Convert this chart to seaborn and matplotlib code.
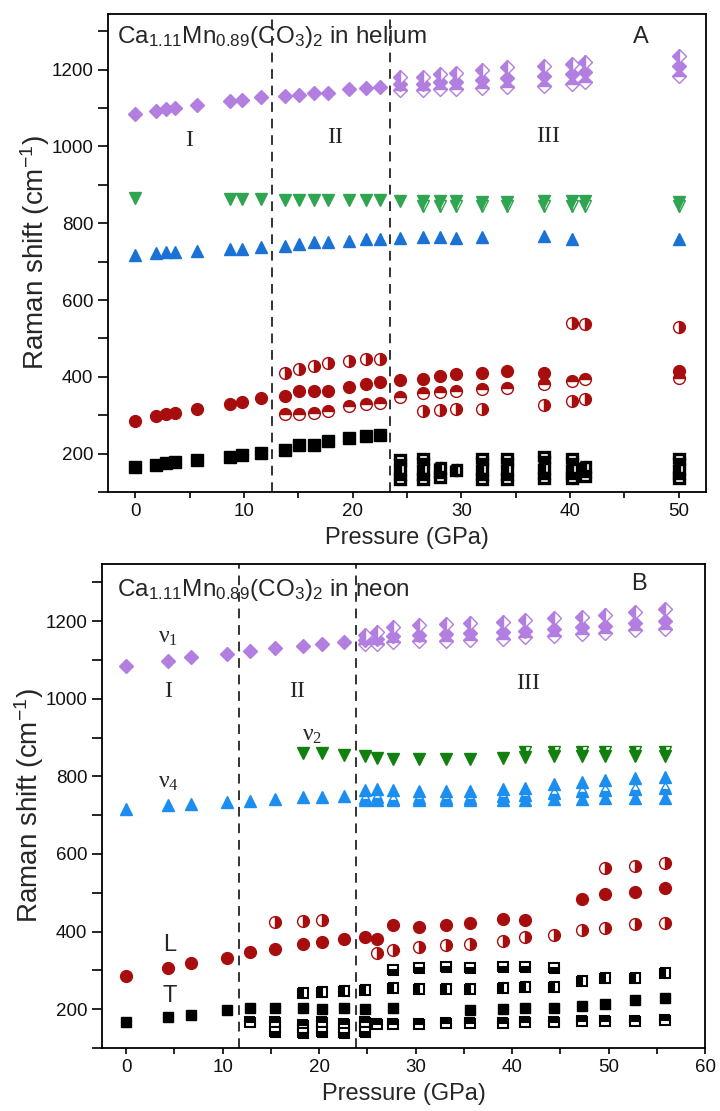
import matplotlib
matplotlib.use("Agg")
import matplotlib.pyplot as plt
import seaborn as sns

sns.set_theme(style="ticks")
plt.rcParams["font.family"] = ["Liberation Sans", "DejaVu Sans"]
plt.rcParams["mathtext.fontset"] = "custom"
plt.rcParams["mathtext.rm"] = "Liberation Sans"
plt.rcParams["mathtext.it"] = "Liberation Sans:italic"
plt.rcParams["mathtext.default"] = "regular"

# ---------------- helium run (panel A) ----------------
he_p_low = [0.0, 1.9, 2.8, 3.7, 5.7, 8.7, 9.8, 11.6, 13.75, 15.1, 16.4, 17.7, 19.7, 21.2, 22.5]
he_p_high = [24.35, 26.5, 28.0, 29.5, 31.9, 34.2, 37.6, 40.2, 41.4, 50.0]

he_v1_low = [1085, 1093, 1097, 1100, 1108, 1119, 1121, 1128, 1132, 1134, 1138, 1140, 1149, 1153, 1156]
he_v1_hi_a = [1180, 1182, 1189, 1191, 1199, 1206, 1210, 1216, 1219, 1236]
he_v1_hi_b = [1163, 1163, 1168, 1168, 1173, 1178, 1184, 1189, 1193, 1210]
he_v1_hi_c = [1146, 1146, 1150, 1150, 1152, 1156, 1158, 1163, 1168, 1184]

he_v2_p = [0.0, 8.7, 9.8, 11.6, 13.75, 15.1, 16.4, 17.7, 19.7, 21.2, 22.5]
he_v2 = [867, 863, 863, 863, 861, 861, 861, 861, 860, 860, 860]
he_v2_hi = [858, 857, 857, 857, 856, 856, 857, 858, 857, 856]
he_v2_hi_b_p = [26.5, 28.0, 29.5, 31.9, 34.2, 37.6, 40.2, 41.4, 50.0]
he_v2_hi_b = [846, 846, 846, 846, 846, 846, 846, 846, 846]

he_v4_low = [718, 722, 724, 726, 728, 732, 734, 738, 741, 745, 750, 752, 754, 758, 759]
he_v4_hi_p = [24.35, 26.5, 28.0, 29.5, 31.9, 37.6, 40.2, 50.0]
he_v4_hi = [762, 763, 765, 762, 765, 768, 758, 760]

he_l_low = [286, 297, 303, 306, 315, 329, 334, 344, 351, 362, 362, 362, 374, 380, 386]
he_l2_p = [13.75, 15.1, 16.4, 17.7, 19.7, 21.2, 22.5]
he_l2_up = [410, 421, 427, 437, 440, 447, 447]
he_l2_dn = [303, 303, 306, 310, 325, 329, 331]
he_l3_p = [24.35, 26.5, 28.0, 29.5, 31.9, 34.2, 37.6, 50.0]
he_l3 = [392, 395, 403, 407, 410, 416, 409, 416]
he_l3_mid = [347, 357, 360, 364, 368, 371, 380, 390, 395, 396]
he_l3_dn_p = [26.5, 28.0, 29.5, 31.9, 37.6, 40.2, 41.4]
he_l3_dn = [312, 314, 316, 316, 327, 338, 341]
he_l3_up_p = [40.2, 41.4, 50.0]
he_l3_up = [539, 538, 529]

he_t_low = [164, 171, 175, 177, 182, 190, 196, 201, 208, 223, 223, 232, 241, 247, 249]
he_t3_a_p = [24.35, 26.5, 31.9, 34.2, 37.6, 40.2, 50.0]
he_t3_a = [184, 186, 187, 187, 190, 186, 186]
he_t3_b_p = [24.35, 26.5, 28.0, 29.5, 31.9, 34.2, 37.6, 40.2, 41.4, 50.0]
he_t3_b = [159, 160, 162, 156, 161, 161, 163, 160, 165, 160]
he_t3_c_p = [24.35, 26.5, 28.0, 31.9, 34.2, 37.6, 40.2, 41.4, 50.0]
he_t3_c = [135, 133, 140, 135, 135, 136, 136, 141, 136]

# ---------------- neon run (panel B) ----------------
ne_p_low = [0.0, 4.3, 6.7, 10.5, 12.85, 15.4, 18.35, 20.3, 22.6]
ne_p_high = [24.8, 25.95, 27.7, 30.4, 33.2, 35.6, 39.1, 41.3, 44.3, 47.2, 49.6, 52.7, 55.8]

ne_v1_low = [1085, 1098, 1107, 1115, 1123, 1130, 1136, 1141, 1147]
ne_v1_hi_a = [1165, 1172, 1184, 1190, 1192, 1196, 1198, 1203, 1207, 1211, 1215, 1224, 1232]
ne_v1_hi_b = [1152, 1155, 1162, 1165, 1168, 1170, 1172, 1175, 1180, 1184, 1187, 1195, 1200]
ne_v1_hi_c = [1140, 1142, 1146, 1148, 1150, 1152, 1155, 1160, 1162, 1168, 1170, 1178, 1180]

ne_v2_p = [18.35, 20.3, 22.6, 24.8, 25.95, 27.7, 30.4, 33.2, 35.6, 39.1, 41.3, 44.3, 47.2, 49.6, 52.7, 55.8]
ne_v2 = [861, 861, 856, 852, 848, 845, 844, 844, 844, 848, 850, 852, 852, 852, 852, 852]
ne_v2_b_p = [41.3, 44.3, 47.2, 49.6, 52.7, 55.8]
ne_v2_b = [862, 862, 862, 862, 862, 862]

ne_v4_low = [715, 726, 728, 733, 737, 741, 746, 748, 750]
ne_v4_hi_a = [765, 768, 766, 762, 762, 762, 767, 771, 779, 786, 790, 795, 798]
ne_v4_hi_b = [745, 748, 742, 745, 745, 745, 750, 752, 757, 762, 765, 768, 770]
ne_v4_hi_c = [738, 738, 738, 738, 738, 738, 740, 740, 742, 742, 743, 745, 745]

ne_l_p = [0.0, 4.3, 6.7, 10.5, 12.85, 15.4, 18.35, 20.3, 22.6, 24.8, 25.95, 27.7,
          30.4, 33.2, 35.6, 39.1, 41.3, 47.2, 49.6, 52.7, 55.8]
ne_l = [286, 307, 318, 333, 348, 356, 369, 374, 382, 385, 380, 416,
        412, 416, 423, 432, 429, 485, 496, 503, 512]
ne_l_up_p = [15.4, 18.35, 20.3, 49.6, 52.7, 55.8]
ne_l_up = [425, 426, 429, 563, 570, 577]
ne_l_dn_p = [25.95, 27.7, 30.4, 33.2, 35.6, 39.1, 41.3, 44.3, 47.2, 49.6, 52.7, 55.8]
ne_l_dn = [345, 352, 359, 365, 369, 376, 386, 392, 405, 409, 420, 422]

ne_t_p = [0.0, 4.3, 6.7, 10.5, 12.85, 15.4, 18.35, 20.3, 22.6, 24.8, 27.7,
          35.6, 39.1, 41.3, 44.3, 47.2, 49.6, 52.7, 55.8]
ne_t = [167, 181, 185, 198, 204, 204, 204, 201, 202, 200, 204,
        198, 201, 204, 204, 209, 213, 224, 228]
ne_t_dn_p = [12.85, 15.4, 18.35, 20.3, 22.6, 24.8, 25.95, 27.7, 30.4, 33.2, 35.6,
             39.1, 41.3, 44.3, 47.2, 49.6, 52.7, 55.8]
ne_t_dn = [167, 167, 160, 167, 162, 167, 162, 162, 162, 164, 164,
           164, 168, 168, 170, 170, 170, 172]
ne_t_low_p = [15.4, 18.35, 20.3, 22.6, 24.8]
ne_t_low = [141, 138, 141, 138, 141]
ne_t_mid_p = [18.35, 20.3, 22.6, 24.8, 27.7, 30.4, 33.2, 35.6, 39.1, 41.3, 44.3,
              47.2, 49.6, 52.7, 55.8]
ne_t_mid = [241, 245, 247, 249, 254, 252, 252, 252, 254, 258, 258, 273, 280, 280, 292]
ne_t_top_p = [27.7, 30.4, 33.2, 35.6, 39.1, 41.3, 44.3]
ne_t_top = [301, 307, 309, 307, 309, 309, 307]

PURPLE = "#b27ee0"
RED = "#a80d0d"
BLACK = "#000000"
GREEN_A = "#2fa552"
BLUE_A = "#1a72d4"
GREEN_B = "#12800f"
BLUE_B = "#1b8ef0"


def marks(ax, p, v, marker, color, ms, fill="full", mew=1.0):
    sns.lineplot(x=p, y=v, ax=ax, estimator=None, sort=False, errorbar=None,
                 linestyle="none", marker=marker, markersize=ms, color=color,
                 markeredgecolor=color, markerfacecolor=color, fillstyle=fill,
                 markerfacecoloralt="white", markeredgewidth=mew, legend=False)


def style_axes(ax, xlim, ylim, xticks):
    ax.set_xlim(*xlim)
    ax.set_ylim(*ylim)
    ax.set_xticks(xticks)
    minor = [t + 5 for t in xticks if t + 5 < xlim[1]]
    ax.set_xticks(minor, minor=True)
    ax.set_yticks([200, 400, 600, 800, 1000, 1200])
    ax.set_yticks([100, 300, 500, 700, 900, 1100, 1300], minor=True)
    ax.tick_params(axis="both", which="both", direction="out", color="black",
                   width=1.2, labelsize=13.5, labelcolor="#111111")
    ax.tick_params(axis="y", which="both", length=7)
    ax.tick_params(axis="x", which="both", length=4.5)
    for s in ax.spines.values():
        s.set_linewidth(1.3)
        s.set_color("black")
    ax.set_xlabel("Pressure (GPa)", fontsize=17, labelpad=5)
    ax.set_ylabel("Raman shift (cm$^{-1}$)", fontsize=20, labelpad=0)
    ax.grid(False)


fig = plt.figure(figsize=(7.2, 11.11), dpi=100)
axA = fig.add_axes([0.150, 0.5572, 0.8306, 0.4302])
axB = fig.add_axes([0.1417, 0.0567, 0.8375, 0.4356])

# ---- panel A ----
for xv in (12.6, 23.4):
    axA.axvline(xv, color="#333333", lw=1.4, dashes=(5, 3.5), zorder=1)

marks(axA, he_p_low, he_v1_low, "D", PURPLE, 7.5)
marks(axA, he_p_high, he_v1_hi_c, "D", PURPLE, 7.5, "top")
marks(axA, he_p_high, he_v1_hi_b, "D", PURPLE, 7.5)
marks(axA, he_p_high, he_v1_hi_a, "D", PURPLE, 7.5, "left")

marks(axA, he_v2_p, he_v2, "v", GREEN_A, 9)
marks(axA, he_v2_hi_b_p, he_v2_hi_b, "v", GREEN_A, 9, "left")
marks(axA, he_p_high, he_v2_hi, "v", GREEN_A, 9)

marks(axA, he_p_low, he_v4_low, "^", BLUE_A, 9)
marks(axA, he_v4_hi_p, he_v4_hi, "^", BLUE_A, 9)

marks(axA, he_p_low, he_l_low, "o", RED, 8.5)
marks(axA, he_l2_p, he_l2_up, "o", RED, 8.5, "right")
marks(axA, he_l2_p, he_l2_dn, "o", RED, 8.5, "top")
marks(axA, he_l3_p, he_l3, "o", RED, 8.5)
marks(axA, he_p_high, he_l3_mid, "o", RED, 8.5, "top")
marks(axA, he_l3_dn_p, he_l3_dn, "o", RED, 8.5, "right")
marks(axA, he_l3_up_p, he_l3_up, "o", RED, 8.5, "right")

marks(axA, he_p_low, he_t_low, "s", BLACK, 8)
marks(axA, he_t3_a_p, he_t3_a, "s", BLACK, 7.5, "bottom", 2.4)
marks(axA, he_t3_b_p, he_t3_b, "s", BLACK, 7.5, "left", 2.4)
marks(axA, he_t3_c_p, he_t3_c, "s", BLACK, 7.5, "top", 2.4)

style_axes(axA, (-2.5, 52.5), (100, 1345), [0, 10, 20, 30, 40, 50])

axA.text(0.015, 0.952, r"Ca$_{1.11}$Mn$_{0.89}$(CO$_3$)$_2$ in helium", transform=axA.transAxes,
         fontsize=17.5, va="center", ha="left")
axA.text(0.878, 0.952, "A", transform=axA.transAxes, fontsize=17, va="center", ha="left")
for lab, xp, yp in (("I", 5.0, 1015), ("II", 18.35, 1022), ("III", 38.0, 1027)):
    axA.text(xp, yp, lab, fontsize=17, family="Liberation Serif", ha="center", va="center")

# ---- panel B ----
for xv in (11.7, 23.8):
    axB.axvline(xv, color="#333333", lw=1.4, dashes=(5, 3.5), zorder=1)

marks(axB, ne_p_low, ne_v1_low, "D", PURPLE, 7.5)
marks(axB, ne_p_high, ne_v1_hi_c, "D", PURPLE, 7.5, "top")
marks(axB, ne_p_high, ne_v1_hi_b, "D", PURPLE, 7.5)
marks(axB, ne_p_high, ne_v1_hi_a, "D", PURPLE, 7.5, "left")

marks(axB, ne_v2_b_p, ne_v2_b, "v", GREEN_B, 8.5, "left")
marks(axB, ne_v2_p, ne_v2, "v", GREEN_B, 8.5)

marks(axB, ne_p_low, ne_v4_low, "^", BLUE_B, 9)
marks(axB, ne_p_high, ne_v4_hi_c, "^", BLUE_B, 9)
marks(axB, ne_p_high, ne_v4_hi_b, "^", BLUE_B, 9, "bottom")
marks(axB, ne_p_high, ne_v4_hi_a, "^", BLUE_B, 9)

marks(axB, ne_l_p, ne_l, "o", RED, 8.5)
marks(axB, ne_l_up_p, ne_l_up, "o", RED, 8.5, "right")
marks(axB, ne_l_dn_p, ne_l_dn, "o", RED, 8.5, "right")

marks(axB, ne_t_p, ne_t, "s", BLACK, 7.5)
marks(axB, ne_t_dn_p, ne_t_dn, "s", BLACK, 7.5, "top", 1.5)
marks(axB, ne_t_low_p, ne_t_low, "s", BLACK, 7.5, "bottom", 1.5)
marks(axB, ne_t_mid_p, ne_t_mid, "s", BLACK, 7.5, "left", 1.5)
marks(axB, ne_t_top_p, ne_t_top, "s", BLACK, 7.5, "bottom", 1.5)

style_axes(axB, (-2.5, 60), (103, 1347), [0, 10, 20, 30, 40, 50, 60])

axB.text(0.025, 0.946, r"Ca$_{1.11}$Mn$_{0.89}$(CO$_3$)$_2$ in neon", transform=axB.transAxes,
         fontsize=17.5, va="center", ha="left")
axB.text(0.878, 0.958, "B", transform=axB.transAxes, fontsize=17, va="center", ha="left")
for lab, xp, yp in (("I", 4.3, 1019), ("II", 17.75, 1019), ("III", 41.7, 1038)):
    axB.text(xp, yp, lab, fontsize=17, family="Liberation Serif", ha="center", va="center")
for lab, xp, yp in ((r"$\nu_1$", 4.3, 1158), (r"$\nu_4$", 4.4, 785), (r"$\nu_2$", 19.3, 906)):
    axB.text(xp, yp, lab, fontsize=17, family="Liberation Serif", ha="center", va="center")
for lab, xp, yp in (("L", 4.5, 365), ("T", 4.5, 233)):
    axB.text(xp, yp, lab, fontsize=17, ha="center", va="center")

fig.savefig("out.png", dpi=100)
